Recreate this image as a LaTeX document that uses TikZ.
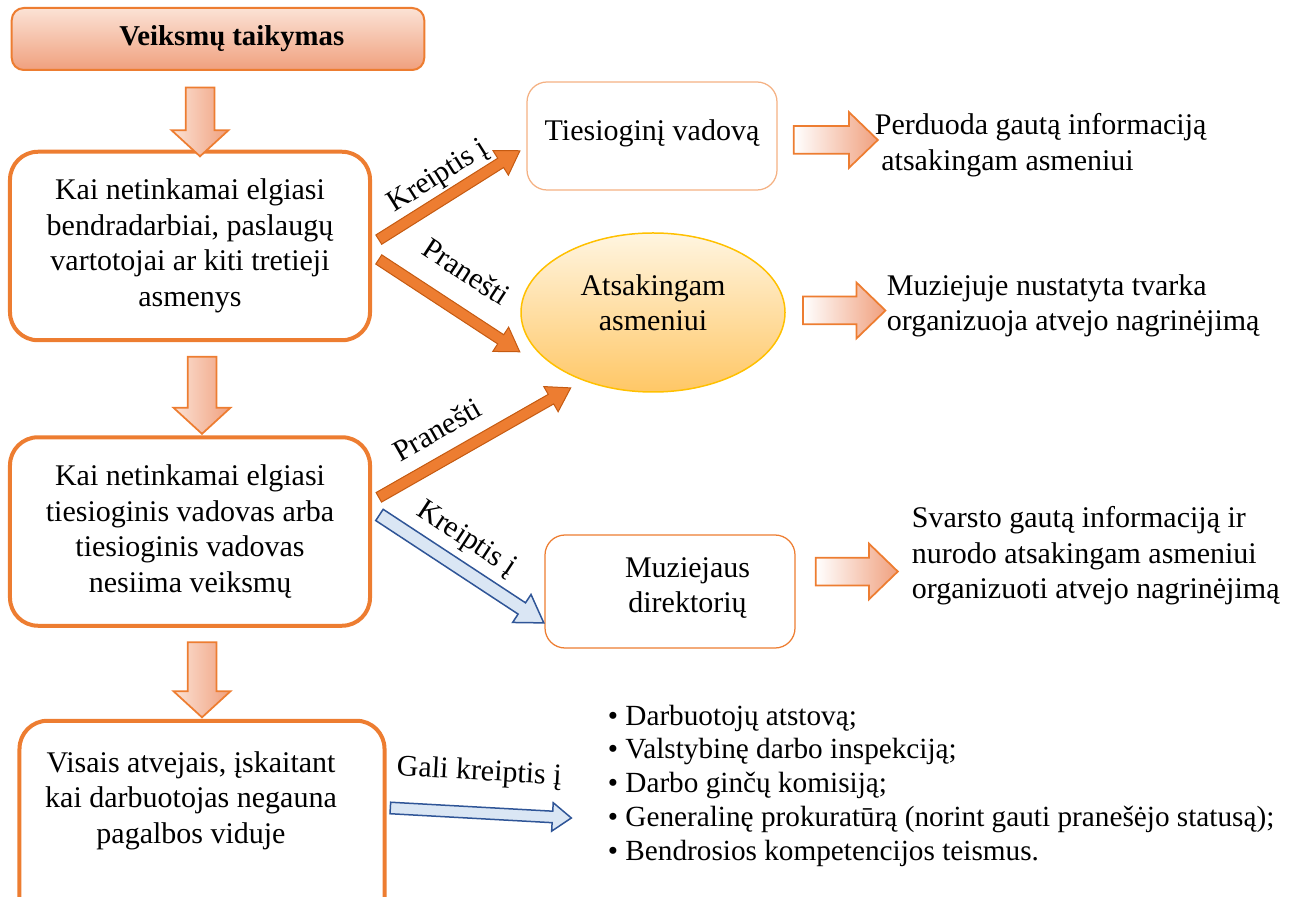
\documentclass[tikz,border=0pt]{standalone}
\usepackage{fontspec}
\setmainfont{Liberation Serif}
\usetikzlibrary{arrows.meta, positioning, calc, shapes.geometric, shapes.arrows}
\definecolor{burnt}{HTML}{ED7D31}
\definecolor{burntdark}{HTML}{C55A11}
\definecolor{salmon}{HTML}{F0A07E}
\definecolor{blush}{HTML}{FBE2D5}
\definecolor{peach}{HTML}{F4B183}
\definecolor{skyfill}{HTML}{DAE6F4}
\definecolor{navy}{HTML}{2F5597}
\definecolor{amber}{HTML}{FFC000}
\definecolor{cream}{HTML}{FFF5E0}
\definecolor{marigold}{HTML}{FFC766}

% fat arrow between two named points, with an optional label on its left side
\newcommand\fatarrow[6][]{%
  \path let \p1 = ($(#4)-(#3)$),
            \n1 = {atan2(\y1,\x1)},
            \n2 = {veclen(\x1,\y1)} in
    ($(#3)!0.5!(#4)$) node[fatarr, #1, rotate=\n1, minimum height=\n2] (#2) {}
                      node[arrlabel, rotate=\n1, #5] {#6};
}

\begin{document}
\begin{tikzpicture} [%
    x = 0.4pt, y = -0.4pt,
    font = \fontsize{12}{14.2}\selectfont,
    headbox/.style = {%
      draw = burnt, line width = 0.8pt, rounded corners = 4.8pt,
      top color = blush, bottom color = salmon,
      minimum width = 165pt, minimum height = 24.8pt,
      font = \bfseries\fontsize{11.5}{14}\selectfont },
    actbox/.style = {%
      draw = burnt, line width = 1.6pt, rounded corners = 11.2pt,
      minimum width = 144pt, minimum height = 75.4pt, align = center },
    thinbox/.style = {%
      draw = peach, line width = 0.5pt, rounded corners = 8pt,
      minimum width = 100pt, align = center },
    respnode/.style = {%
      ellipse, draw = amber, line width = 0.6pt,
      top color = cream, bottom color = marigold,
      minimum width = 105.6pt, minimum height = 63.6pt, align = center },
    restext/.style = {align = left, anchor = west},
    fatarr/.style = {%
      single arrow, inner xsep = 0pt, inner ysep = 2pt,
      single arrow head extend = 3.6pt, single arrow tip angle = 65,
      fill = burnt, draw = burntdark, line width = 0.4pt },
    downarr/.style = {%
      inner ysep = 5.4pt, single arrow head extend = 5.6pt,
      single arrow tip angle = 95, draw = burnt, line width = 0.7pt,
      left color = blush, right color = salmon },
    rightarr/.style = {%
      downarr, inner ysep = 5.2pt, single arrow tip angle = 88,
      left color = white },
    bluearr/.style = {%
      inner ysep = 2.4pt, single arrow head extend = 4pt,
      fill = skyfill, draw = navy, line width = 0.6pt },
    arrlabel/.style = {inner sep = 0pt}
  ]

  \path[use as bounding box] (0,0) rectangle (1290,897);
  \clip (0,0) rectangle (1290,897);

  \node[headbox] (title) at (218,39) {\hspace*{11pt}Veiksmų taikymas};

  \node[actbox] (act1) at (190,246)
    {Kai netinkamai elgiasi\\bendradarbiai, paslaugų\\vartotojai ar kiti tretieji\\asmenys};
  \node[actbox, below = 37.2pt of act1] (act2)
    {Kai netinkamai elgiasi\\tiesioginis vadovas arba\\tiesioginis vadovas\\nesiima veiksmų};
  \node[actbox, minimum width = 146pt, minimum height = 87.2pt,
        below = 36.4pt of act2, xshift = 4.8pt] (act3) {};
  \node[align = center] (act3txt) at ($(act3.north)+(-11,82)$)
    {Visais atvejais, įskaitant\\kai darbuotojas negauna\\pagalbos viduje};

  \node[thinbox, minimum height = 43.2pt] (vad) at (652,136)
    {Tiesioginį vadovą\\[-9.4pt]\mbox{}};
  \node[respnode] (asm) at (653,312.5) {Atsakingam\\asmeniui\\[-6.2pt]\mbox{}};
  \node[thinbox, draw = burnt, minimum height = 45.2pt] (dir) at (670,591.5)
    {\hspace*{14pt}Muziejaus\\\hspace*{14pt}direktorių\\[-9pt]\mbox{}};

  \node[restext] (res1) at (866,145)
    {Perduoda gautą informaciją\\\hspace*{2.6pt}atsakingam asmeniui};
  \node[restext] (res2) at (878,306)
    {Muziejuje nustatyta tvarka\\organizuoja atvejo nagrinėjimą};
  \node[restext] (res3) at (903,556)
    {Svarsto gautą informaciją ir\\nurodo atsakingam asmeniui\\organizuoti atvejo nagrinėjimą};
  \node[align = left, anchor = north west, font = \fontsize{11.7}{13.5}\selectfont] (inst) at (599,696)
    {\textbullet\ Darbuotojų atstovą;\\
     \textbullet\ Valstybinę darbo inspekciją;\\
     \textbullet\ Darbo ginčų komisiją;\\
     \textbullet\ Generalinę prokuratūrą (norint gauti pranešėjo statusą);\\
     \textbullet\ Bendrosios kompetencijos teismus.};

  % arrow ends
  \coordinate (dn1a) at ($(title.south)+(-18,10)$);
  \coordinate (dn1b) at ($(act1.north)+(10,0)$);
  \coordinate (dn2a) at ($(act1.south)+(12,8)$);
  \coordinate (dn2b) at ($(act2.north)+(12,-8)$);
  \coordinate (dn3a) at ($(act2.south)+(12,8)$);
  \coordinate (dn3b) at ($(act3.north)+(0,-8)$);
  \coordinate (rt1a) at ($(vad.east)+(9,4)$);
  \coordinate (rt1b) at ($(vad.east)+(93,4)$);
  \coordinate (rt2a) at ($(asm.east)+(10,-2)$);
  \coordinate (rt2b) at ($(asm.east)+(92.5,-2)$);
  \coordinate (rt3a) at ($(dir.east)+(13,-20)$);
  \coordinate (rt3b) at ($(dir.east)+(95,-20)$);
  \coordinate (or1a) at ($(act1.east)+(3,-4)$);
  \coordinate (or1b) at ($(vad.west)+(-10,17)$);
  \coordinate (or2a) at ($(act1.east)+(3,11)$);
  \coordinate (or2b) at ($(asm.west)+(-4,37)$);
  \coordinate (or3a) at ($(act2.east)+(3,-32)$);
  \coordinate (or3b) at ($(asm.center)+(-86,77.5)$);
  \coordinate (bl1a) at ($(act2.east)+(3,-19.5)$);
  \coordinate (bl1b) at ($(dir.west)+(-5,28.5)$);
  \coordinate (bl2a) at ($(act3.east)+(0,-22)$);
  \coordinate (bl2b) at ($(act3.east)+(181,-12)$);

  \fatarrow[downarr]{dn1}{dn1a}{dn1b}{}{}
  \fatarrow[downarr]{dn2}{dn2a}{dn2b}{}{}
  \fatarrow[downarr]{dn3}{dn3a}{dn3b}{}{}
  \fatarrow[rightarr]{rt1}{rt1a}{rt1b}{}{}
  \fatarrow[rightarr]{rt2}{rt2a}{rt2b}{}{}
  \fatarrow[rightarr]{rt3}{rt3a}{rt3b}{}{}

  \fatarrow{or1}{or1a}{or1b}{yshift = 8.4pt, xshift = 2pt}{Kreiptis į}
  \fatarrow{or2}{or2a}{or2b}{yshift = 15.2pt}{Pranešti}
  \fatarrow{or3}{or3a}{or3b}{yshift = 12pt, xshift = -8.8pt}{Pranešti}
  \fatarrow[bluearr]{bl1}{bl1a}{bl1b}{yshift = 10.8pt, xshift = -2.8pt}{Kreiptis į}
  \fatarrow[bluearr, inner ysep = 2pt, single arrow head extend = 3.4pt,
            single arrow tip angle = 74]{bl2}{bl2a}{bl2b}{yshift = 16pt}{Gali kreiptis į}

\end{tikzpicture}
\end{document}
